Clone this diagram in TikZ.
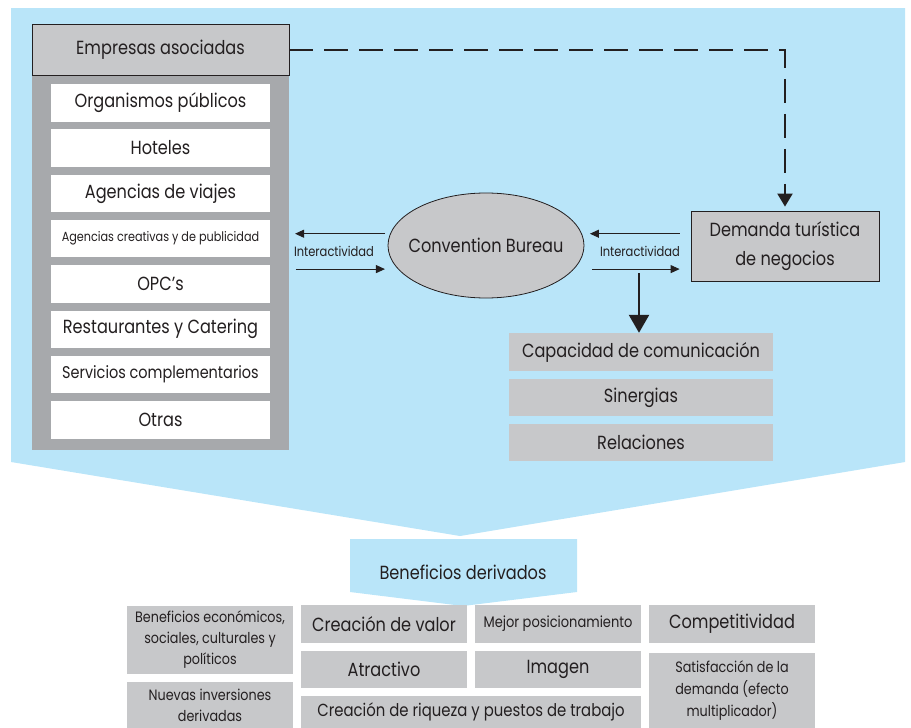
\documentclass[tikz,border=0pt]{standalone}
\usepackage{fontspec}
\setmainfont{Poppins}[FakeStretch=0.85]
\usepackage{tikz}
\usetikzlibrary{shapes.geometric}
\usetikzlibrary{arrows.meta}
\definecolor{skyfill}{HTML}{B9E5F9}
\definecolor{boxgray}{HTML}{C7C8CA}
\definecolor{panelgray}{HTML}{A7A9AC}
\definecolor{inkdark}{HTML}{231F20}
\tikzset{>={Triangle[length=9pt,width=8pt]}}
\tikzset{
  txt/.style={font=\fontsize{19}{22}\selectfont, text=inkdark, inner sep=0pt, align=center},
  tinytxt/.style={txt, font=\fontsize{13.5}{15}\selectfont},
  whitebox/.style={txt, fill=white, minimum width=219, minimum height=37.5},
  graybox/.style={txt, fill=boxgray, minimum width=166, minimum height=38},
  framed/.style={txt, fill=boxgray, draw=inkdark, line width=0.8pt},
  arr/.style={->, line width=0.9pt, draw=inkdark},
  dashline/.style={line width=2pt, draw=inkdark, dash pattern=on 24pt off 11pt,
    -{Triangle[length=13pt,width=15pt]}, shorten >=4pt},
}

\begin{document}
\begin{tikzpicture}[x=1pt, y=-1pt]
    \useasboundingbox (0,0) rectangle (911,728);
    % big light blue arrow and the small one below it
    \fill[skyfill](11, 8)--(905, 8)--(905, 462)--(460, 536)--(11, 462)--cycle;
    \fill[skyfill](350, 539)--(577, 539)--(577, 592)--(463, 606)--(350, 592)--cycle;
    \node[txt] (benef) at (463, 572) {Beneficios derivados};

    % associated companies
    \fill[panelgray](32, 75) rectangle (289, 450);
    \node[framed, minimum width=257, minimum height=51] (empresas) at (160.5, 49.5) {Empresas asociadas};
    \foreach \nm/\txt [count=\i from 0] in {org/Organismos públicos, hot/Hoteles, viaj/Agencias de viajes,
        crea/{\fontsize{13.2}{15}\selectfont Agencias creativas y de publicidad}, opc/OPC’s,
        rest/Restaurantes y Catering, serv/{\fontsize{17}{19}\selectfont Servicios complementarios}, otr/Otras}
        \node[whitebox] (\nm) at (160.5, 102.75+45.3*\i) {\txt};

    % convention bureau and demand
    \node[ellipse, draw=inkdark, fill=boxgray, line width=0.8pt, minimum width=196, minimum height=105,
        inner sep=0pt, label={[txt]center:Convention Bureau}] (cb) at (486, 245.5) {};
    \node[framed, minimum width=188, minimum height=70, font=\fontsize{19}{29}\selectfont] (demanda) at (785, 246)
        {Demanda turística\\de negocios};

    \draw[arr]([xshift=-5]cb.173)--++(-90, 0);
    \draw[arr]([xshift=-102]cb.195)--([xshift=-13]cb.195);
    \node[tinytxt] (inter1) at (334, 251) {Interactividad};
    \draw[arr]([xshift=-11]demanda.west |- cb.7)--([xshift=8]cb.7);
    \draw[arr]([xshift=18]cb.-15)--([xshift=-11]demanda.west |- cb.-15);
    \node[tinytxt] (inter2) at (640, 251) {Interactividad};

    \draw[dashline](empresas.east)-|(demanda.north);

    % network results
    \node[graybox, minimum width=264] (cap) at (641, 352) {Capacidad de comunicación};
    \node[graybox, minimum width=264, minimum height=37] (sin) at (641, 397.5) {Sinergias};
    \node[graybox, minimum width=264, minimum height=37] (rel) at (641, 442.5) {Relaciones};
    \coordinate (split) at (639, 273);
    \draw[line width=2.5pt, draw=inkdark, -{Triangle[length=18pt,width=20pt]}](split)--(split |- cap.north);

    % derived benefits
    \node[graybox, minimum height=68, font=\fontsize{15}{21}\selectfont] (econ) at (210, 640)
        {Beneficios económicos,\\sociales, culturales y\\políticos};
    \node[graybox, minimum height=47, font=\fontsize{15}{21}\selectfont] (nuevas) at (210, 705)
        {Nuevas inversiones\\derivadas};
    \node[graybox] (valor) at (384, 624) {Creación de valor};
    \node[graybox, font=\fontsize{15.3}{21}\selectfont] (mejor) at (558, 624) {Mejor posicionamiento};
    \node[graybox] (compet) at (732, 624) {Competitividad};
    \node[graybox, minimum height=37] (atrac) at (384, 669.5) {Atractivo};
    \node[graybox, minimum height=37] (imagen) at (558, 669.5) {Imagen};
    \node[graybox, minimum width=340, minimum height=32, font=\fontsize{17.5}{21}\selectfont] (riqueza) at (471, 712)
        {Creación de riqueza y puestos de trabajo};
    \node[graybox, minimum height=77, font=\fontsize{15}{22}\selectfont] (satisf) at (732, 691)
        {Satisfacción de la\\demanda (efecto\\multiplicador)};
\end{tikzpicture}
\end{document}
